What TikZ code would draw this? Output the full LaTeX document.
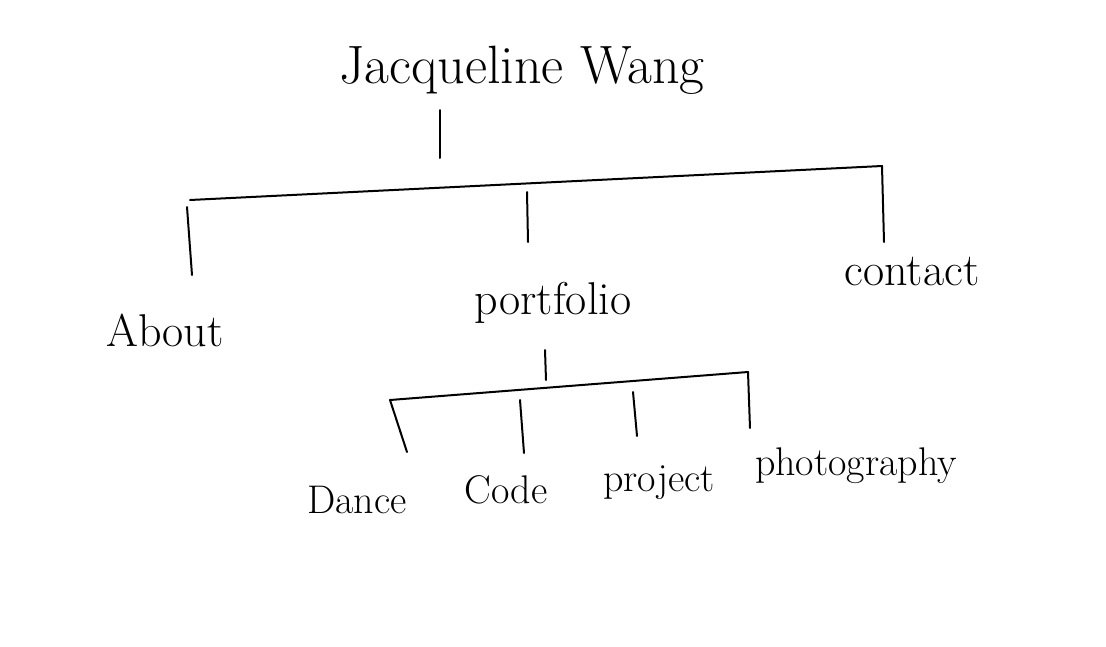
\documentclass[tikz,border=0pt]{standalone}
\begin{document}
\begin{tikzpicture}[x=1pt,y=-1pt,
  pen/.style={line width=2pt,line cap=round,line join=round,black},
  titletext/.style={font=\fontsize{54}{60}\selectfont,inner sep=0pt},
  mainlabel/.style={font=\fontsize{46}{52}\selectfont,inner sep=0pt},
  sublabel/.style={font=\fontsize{40}{46}\selectfont,inner sep=0pt}]
\fill[white] (0,0) rectangle (1106,646);
\useasboundingbox (0,0) rectangle (1106,646);
% labels
\node[titletext] (title) at (522,70) {Jacqueline Wang};
\node[mainlabel] (about) at (165,330) {About};
\node[mainlabel] (portfolio) at (553,303) {portfolio};
\node[mainlabel] (contact) at (912,272) {contact};
\node[sublabel] (dance) at (357,500) {Dance};
\node[sublabel] (code) at (506,490) {Code};
\node[sublabel] (project) at (659,483) {project};
\node[sublabel] (photo) at (856,466) {photography};
% top tree
\coordinate (t1) at (440,110);
\coordinate (t2) at (440,158);
\coordinate (barL) at (190,200);
\coordinate (barR) at (882,166);
\coordinate (aTop) at (187,207);
\coordinate (aBot) at (192,275);
\coordinate (pTop) at (527,192);
\coordinate (pBot) at (528,242);
\coordinate (cBot) at (884,242);
\draw[pen] (t1) -- (t2);
\draw[pen] (barL) -- (barR) -- (cBot);
\draw[pen] (aTop) -- (aBot);
\draw[pen] (pTop) -- (pBot);
% sub tree
\coordinate (s1) at (545,350);
\coordinate (s2) at (546,380);
\coordinate (sbarL) at (390,400);
\coordinate (sbarR) at (748,372);
\coordinate (phBot) at (750,428);
\coordinate (dBot) at (407,452);
\coordinate (cdTop) at (520,400);
\coordinate (cdBot) at (524,453);
\coordinate (prTop) at (633,392);
\coordinate (prBot) at (637,436);
\draw[pen] (s1) -- (s2);
\draw[pen] (sbarL) -- (sbarR) -- (phBot);
\draw[pen] (sbarL) -- (dBot);
\draw[pen] (cdTop) -- (cdBot);
\draw[pen] (prTop) -- (prBot);
\end{tikzpicture}
\end{document}
